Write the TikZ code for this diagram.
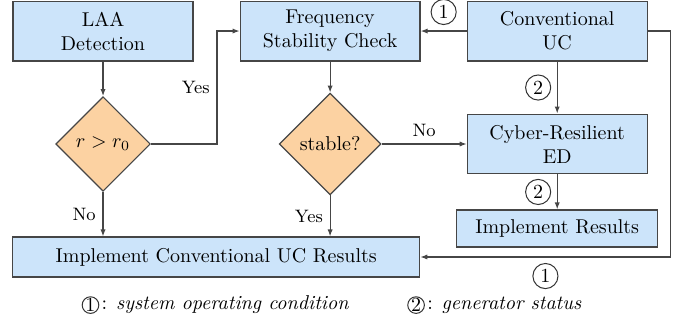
\documentclass[tikz,border=0pt]{standalone}
\usepackage{xcolor}
\usepackage{amsmath}
\usepackage{tikz}
\usetikzlibrary{arrows.meta, shapes, positioning}
\definecolor{boxblue}{RGB}{204, 228, 250}
\definecolor{choiceorange}{RGB}{252, 210, 162}
\definecolor{linegray}{RGB}{70, 70, 70}

\begin{document}
\begin{tikzpicture}[
        block/.style={draw=linegray, line width=0.6pt, fill=boxblue, align=center,
            minimum width=3.16cm, minimum height=1.05cm},
        choice/.style={draw=linegray, line width=0.6pt, fill=choiceorange, diamond, aspect=1},
        flow/.style={-{Latex[length=3.5pt, width=2.6pt]}, line width=0.6pt, linegray},
        num/.style={draw=black!80, circle, inner sep=1.5pt, line width=0.5pt, text=black},
        lbl/.style={font=\small, text=black}
    ]
        \useasboundingbox (0,0) rectangle (12.0,-5.657);

        % top row
        \node[block] (laa) at (1.81,-0.545) {LAA\\Detection};
        \node[block] (freq) at (5.80,-0.545) {Frequency\\Stability Check};
        \node[block] (uc) at (9.79,-0.545) {Conventional\\UC};

        % decisions
        \node[choice] (ratio) at (1.81,-2.53) {$r > r_0$};
        \node[choice] (stable) at (5.80,-2.53) {stable?};
        \node[block] (ed) at (9.79,-2.53) {Cyber-Resilient\\ED};

        % results
        \node[block, minimum width=3.53cm, minimum height=0.65cm] (res) at (9.79,-4.015) {Implement Results};
        \node[block, minimum width=7.15cm, minimum height=0.70cm] (conv) at (3.80,-4.515) {Implement Conventional UC Results};

        % arrows
        \draw[flow] (laa) -- (ratio);
        \draw[flow] (ratio.east) -- ++(1.16,0) |- node[pos=0.25, left, lbl] {Yes} (freq.west);
        \draw[flow] (ratio.south) -- node[left, lbl] {No} (ratio.south |- conv.north);
        \draw[flow] (freq) -- (stable);
        \draw[flow] (stable.south) -- node[left, lbl] {Yes} (stable.south |- conv.north);
        \draw[flow] (stable) -- node[above, lbl] {No} (ed);
        \draw[flow] (uc) -- node[num, above=3pt] {1} (freq);
        \draw[flow] (uc) -- node[num, left=3pt] {2} (ed);
        \draw[flow] (ed) -- node[num, left=3pt] {2} (res);
        \draw[flow] (uc.east) -- ++(0.40,0) |- node[num, pos=0.75, below=3pt] {1} (conv.east);

        % legend
        \node[num, inner sep=0pt] (key1) at (1.59,-5.36) {1};
        \node[right=0pt of key1, inner sep=1pt] (key1txt) {: \textit{system operating condition}};
        \node[num, inner sep=0pt] (key2) at (7.31,-5.36) {2};
        \node[right=0pt of key2, inner sep=1pt] (key2txt) {: \textit{generator status}};
    \end{tikzpicture}
\end{document}
